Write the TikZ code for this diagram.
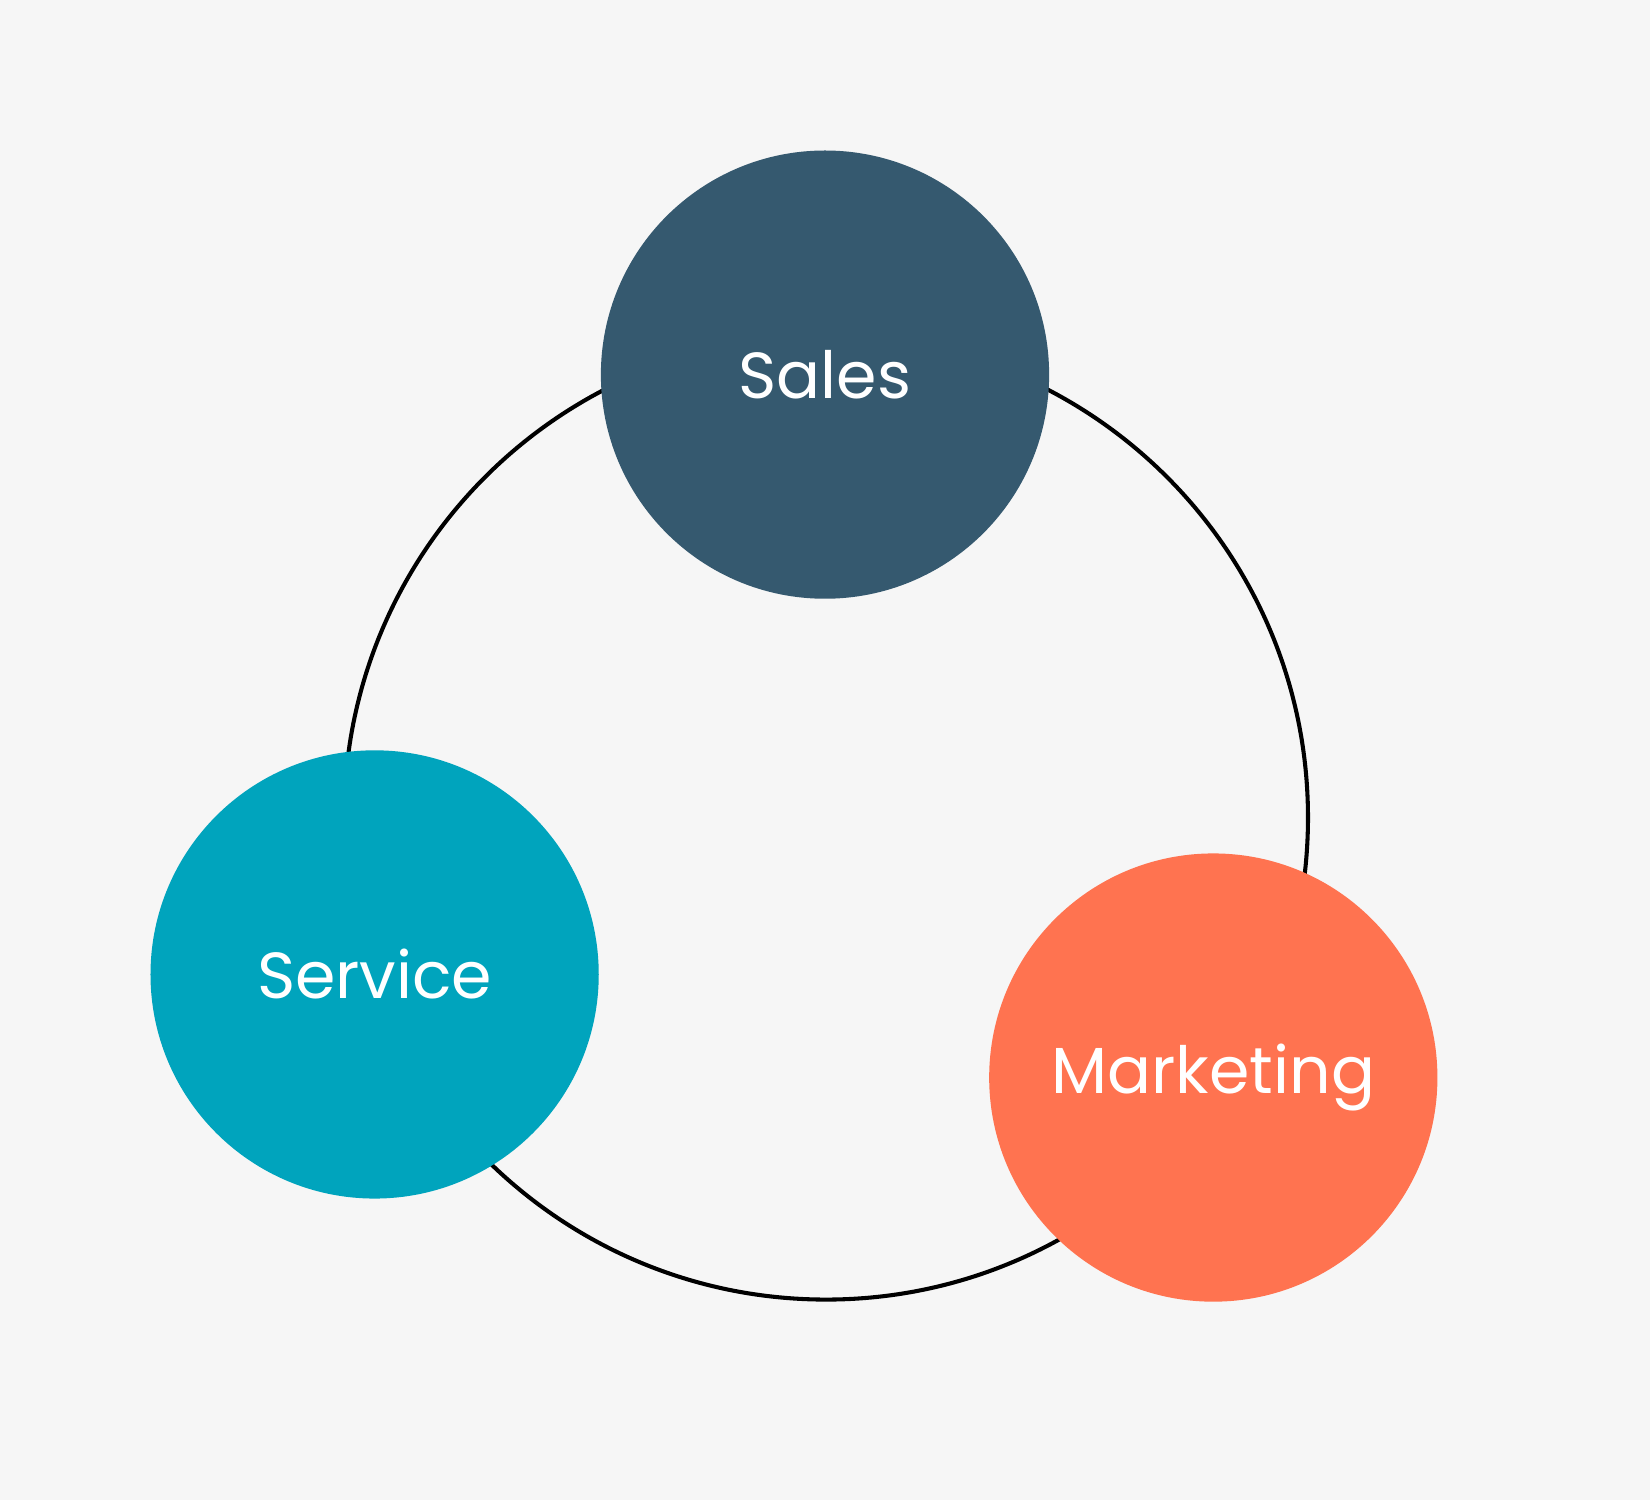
\documentclass[tikz,border=0pt]{standalone}
\usepackage{fontspec}
\setmainfont{Poppins}
\definecolor{bg}{HTML}{F6F6F6}
\definecolor{sales}{HTML}{35596F}
\definecolor{service}{HTML}{00A4BD}
\definecolor{mkt}{HTML}{FF7350}
\begin{document}
\begin{tikzpicture}[x=0.05cm,y=-0.05cm,
  bubble/.style={circle,minimum size=21.3cm,inner sep=0pt,text=white,font=\fontsize{88}{100}\selectfont}]
\fill[bg] (0,0) rectangle (1568,1425);
\useasboundingbox (0,0) rectangle (1568,1425);
\coordinate (c) at (785,777);
\draw[line width=5.5pt] (c) circle[radius=22.9cm];
\node[bubble,fill=sales] (sales) at (784,356) {Sales};
\node[bubble,fill=service] (service) at (356,926) {Service};
\node[bubble,fill=mkt] (mkt) at (1153,1024) {Marketing};
\end{tikzpicture}
\end{document}
